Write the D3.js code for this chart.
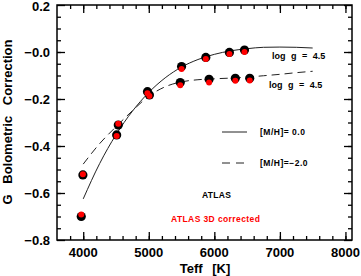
<!DOCTYPE html>
<html>
<head>
<meta charset="utf-8">
<script src="https://cdn.jsdelivr.net/npm/d3@7"></script>
<style>
  body { margin: 0; background: #fff; }
  text { font-family: "Liberation Sans", Arial, sans-serif; font-weight: bold; }
</style>
</head>
<body>
<svg id="chart" width="361" height="276"></svg>
<script>
// data
var teffSolid   = [3970, 4510, 4980, 5500, 5870, 6230, 6460];
var bcSolid     = [-0.700, -0.353, -0.169, -0.062, -0.023, -0.002, 0.008];
var bcSolid3D   = [-0.692, -0.357, -0.176, -0.072, -0.030, -0.008, 0.000];

var teffDashed  = [3995, 4535, 5010, 5480, 5920, 6320, 6540];
var bcDashed    = [-0.523, -0.311, -0.183, -0.130, -0.116, -0.112, -0.112];
var bcDashed3D  = [-0.520, -0.305, -0.187, -0.142, -0.130, -0.122, -0.121];

// fitted curves
var fitTeff     = [4000, 4250, 4500, 4750, 5000, 5250, 5500, 5750, 6000, 6250, 6500, 6750, 7000, 7250, 7500];
var fitSolid    = [-0.625, -0.475, -0.352, -0.252, -0.172, -0.11, -0.064, -0.032, -0.01, 0.005, 0.014, 0.02, 0.021, 0.02, 0.017];
var fitDashed   = [-0.477, -0.39, -0.318, -0.25, -0.188, -0.148, -0.127, -0.118, -0.114, -0.111, -0.107, -0.101, -0.095, -0.088, -0.082];

var xTicks = [4000, 5000, 6000, 7000, 8000];
var yTicks = [0.2, 0.0, -0.2, -0.4, -0.6, -0.8];

var svg = d3.select("#chart");
var x = d3.scaleLinear().domain([3600, 8100]).range([57, 352]);
var y = d3.scaleLinear().domain([-0.8, 0.2]).range([240, 5]);

function fmtY(d) {
  return d >= 0.0001 ? d3.format(".1f")(d) : "\u2212" + d3.format(".1f")(Math.abs(d));
}

// minor + major ticks on all four sides, pointing inward
var xMinor = d3.range(3800, 8100, 200);
var yMinor = d3.range(-0.75, 0.2, 0.05);

function ticks(axisFn, scale, vals, len, tx, ty) {
  svg.append("g")
    .attr("transform", "translate(" + tx + "," + ty + ")")
    .call(axisFn(scale).tickValues(vals).tickSize(len).tickFormat(""))
    .call(function(g) { g.select(".domain").remove(); })
    .selectAll("line").attr("stroke", "#000").attr("stroke-width", 1.3);
}
ticks(d3.axisTop, x, xMinor, 4, 0, 240);
ticks(d3.axisTop, x, xTicks, 8, 0, 240);
ticks(d3.axisBottom, x, xMinor, 4, 0, 5);
ticks(d3.axisBottom, x, xTicks, 8, 0, 5);
ticks(d3.axisRight, y, yMinor, 4, 57, 0);
ticks(d3.axisRight, y, yTicks, 8, 57, 0);
ticks(d3.axisLeft, y, yMinor, 4, 352, 0);
ticks(d3.axisLeft, y, yTicks, 8, 352, 0);

// frame
svg.append("rect")
  .attr("x", 57).attr("y", 5).attr("width", 295).attr("height", 235)
  .attr("fill", "none").attr("stroke", "#000").attr("stroke-width", 1.5);

// tick labels
svg.append("g").selectAll("text").data(xTicks).join("text")
  .attr("x", function(d) { return x(d); })
  .attr("y", 257)
  .attr("text-anchor", "middle")
  .attr("font-size", 13)
  .text(function(d) { return d; });

svg.append("g").selectAll("text").data(yTicks).join("text")
  .attr("x", 50)
  .attr("y", function(d) { return Math.max(y(d) + 4.5, 11); })
  .attr("text-anchor", "end")
  .attr("font-size", 13)
  .text(fmtY);

// axis titles
svg.append("text")
  .attr("x", 205).attr("y", 273)
  .attr("text-anchor", "middle")
  .attr("font-size", 13)
  .attr("word-spacing", 6)
  .text("Teff [K]");

svg.append("text")
  .attr("transform", "translate(12,122) rotate(-90)")
  .attr("text-anchor", "middle")
  .attr("font-size", 13)
  .attr("word-spacing", 7)
  .text("G Bolometric Correction");

// fit curves
var line = d3.line()
  .x(function(d) { return x(d[0]); })
  .y(function(d) { return y(d[1]); })
  .curve(d3.curveMonotoneX);

svg.append("path")
  .datum(d3.zip(fitTeff, fitSolid))
  .attr("d", line)
  .attr("fill", "none").attr("stroke", "#222").attr("stroke-width", 1);

svg.append("path")
  .datum(d3.zip(fitTeff, fitDashed))
  .attr("d", line)
  .attr("fill", "none").attr("stroke", "#222").attr("stroke-width", 1)
  .attr("stroke-dasharray", "8,5");

// points: ATLAS (black) then 3D corrected (red)
var atlas = d3.zip(teffSolid, bcSolid).concat(d3.zip(teffDashed, bcDashed));
var corr = d3.zip(teffSolid, bcSolid3D).concat(d3.zip(teffDashed, bcDashed3D));

svg.append("g").selectAll("circle").data(atlas).join("circle")
  .attr("cx", function(d) { return x(d[0]); })
  .attr("cy", function(d) { return y(d[1]); })
  .attr("r", 4.6).attr("fill", "#000");

svg.append("g").selectAll("circle").data(corr).join("circle")
  .attr("cx", function(d) { return x(d[0]); })
  .attr("cy", function(d) { return y(d[1]); })
  .attr("r", 3).attr("fill", "#f00");

// curve labels
svg.append("text").attr("x", 272).attr("y", 59)
  .attr("font-size", 9).attr("word-spacing", 3).text("log g = 4.5");
svg.append("text").attr("x", 269).attr("y", 88)
  .attr("font-size", 9).attr("word-spacing", 3).text("log g = 4.5");

// legend
svg.append("line").attr("x1", 222).attr("x2", 247).attr("y1", 132).attr("y2", 132)
  .attr("stroke", "#222").attr("stroke-width", 1);
svg.append("text").attr("x", 260).attr("y", 135)
  .attr("font-size", 8.5).attr("letter-spacing", 0.5).text("[M/H]= 0.0");

svg.append("line").attr("x1", 222).attr("x2", 244).attr("y1", 163).attr("y2", 163)
  .attr("stroke", "#222").attr("stroke-width", 1).attr("stroke-dasharray", "8,6");
svg.append("text").attr("x", 260).attr("y", 166)
  .attr("font-size", 8.5).attr("letter-spacing", 0.5).text("[M/H]=\u22122.0");

svg.append("text").attr("x", 202).attr("y", 198)
  .attr("font-size", 8.5).attr("letter-spacing", 0.3).text("ATLAS");
svg.append("text").attr("x", 171).attr("y", 222)
  .attr("font-size", 8.5).attr("letter-spacing", 0.4).attr("fill", "#f00")
  .text("ATLAS 3D corrected");
</script>
</body>
</html>
